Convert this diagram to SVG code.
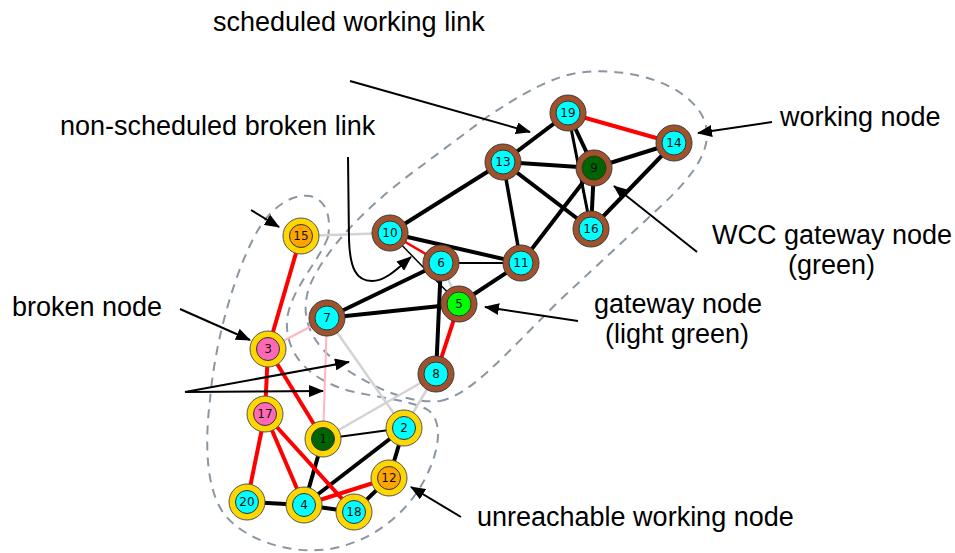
<svg xmlns="http://www.w3.org/2000/svg" width="955" height="553" viewBox="0 0 955 553">
<style>
.lbl{font-family:"Liberation Sans",Arial,sans-serif;font-size:27px;fill:#000}
.num{font-family:"DejaVu Sans",sans-serif;font-size:12px;fill:#111;text-anchor:middle;dominant-baseline:central}
.grp{fill:none;stroke:#8a96a2;stroke-width:2;stroke-dasharray:9 7}
.k{stroke:#000;stroke-width:4;fill:none}
.kt{stroke:#000;stroke-width:2;fill:none}
.r{stroke:#ff0000;stroke-width:4;fill:none}
.rt{stroke:#ff0000;stroke-width:2.5;fill:none}
.g{stroke:#d3d3d3;stroke-width:2.5;fill:none}
.p{stroke:#ffb6c1;stroke-width:2;fill:none}
.arr{stroke:#000;stroke-width:2;fill:none;marker-end:url(#ah)}
.ringB{fill:#a0522d;stroke:#3d3d3d;stroke-width:1}
.ringY{fill:#ffd700;stroke:#555;stroke-width:1}
.in{stroke:#333;stroke-width:1}
</style>
<defs>
<marker id="ah" markerUnits="userSpaceOnUse" markerWidth="15" markerHeight="12" refX="14" refY="6" orient="auto">
<path d="M0,0 L15,6 L0,12 z" fill="#000"/>
</marker>
</defs>
<rect width="955" height="553" fill="#fff"/>
<g id="groups">
<path class="grp" d="M 440,401 C 470,395 500,360 560,300 L 660,207 C 700,170 718,140 700,112 C 680,82 630,68 585,72 C 555,74 520,95 487,117 L 420,167 C 380,196 330,240 310,285 C 295,325 320,355 360,378 C 390,395 415,403 440,401 Z"/>
<path class="grp" d="M 328,237 C 320,260 290,290 287,320 C 285,355 310,380 350,391 C 380,398 410,400 428,410 C 442,420 440,445 430,468 C 415,505 380,540 330,549 C 290,555 245,540 225,515 C 205,490 205,440 210,400 C 215,340 235,270 258,230 C 270,210 290,193 310,196 C 328,200 331,220 328,237 Z"/>
</g>
<g id="connectors">
<line class="g" x1="301" y1="236" x2="390" y2="233"/>
<line class="g" x1="327" y1="318" x2="404" y2="428"/>
<line class="g" x1="436" y1="374" x2="323" y2="439"/>
<line class="g" x1="436" y1="374" x2="404" y2="428"/>
<line class="g" x1="441" y1="263" x2="459" y2="304"/>
<line class="p" x1="268" y1="349" x2="327" y2="318"/>
<line class="p" x1="327" y1="318" x2="323" y2="439"/>
<line class="kt" x1="390" y1="233" x2="459" y2="304" style="stroke-width:1.5"/>
<line class="kt" x1="441" y1="263" x2="521" y2="263"/>
<line class="kt" x1="323" y1="439" x2="404" y2="428"/>
<line class="k" x1="568" y1="113" x2="503" y2="162"/>
<line class="k" x1="568" y1="113" x2="594" y2="168"/>
<line class="k" x1="568" y1="113" x2="591" y2="229" style="stroke-width:3"/>
<line class="k" x1="503" y1="162" x2="594" y2="168"/>
<line class="k" x1="503" y1="162" x2="591" y2="229"/>
<line class="k" x1="503" y1="162" x2="390" y2="233"/>
<line class="k" x1="503" y1="162" x2="521" y2="263" style="stroke-width:3.5"/>
<line class="k" x1="594" y1="168" x2="674" y2="143"/>
<line class="k" x1="594" y1="168" x2="591" y2="229"/>
<line class="k" x1="674" y1="143" x2="591" y2="229"/>
<line class="k" x1="594" y1="168" x2="521" y2="263"/>
<line class="k" x1="390" y1="233" x2="521" y2="263"/>
<line class="k" x1="441" y1="263" x2="327" y2="318"/>
<line class="k" x1="327" y1="318" x2="459" y2="304"/>
<line class="k" x1="441" y1="263" x2="436" y2="374"/>
<line class="k" x1="459" y1="304" x2="521" y2="263"/>
<line class="k" x1="323" y1="439" x2="304" y2="505"/>
<line class="k" x1="404" y1="428" x2="304" y2="505"/>
<line class="k" x1="404" y1="428" x2="389" y2="478"/>
<line class="k" x1="389" y1="478" x2="354" y2="512"/>
<line class="k" x1="247" y1="502" x2="304" y2="505"/>
<line class="k" x1="304" y1="505" x2="354" y2="512"/>
<line class="rt" x1="390" y1="233" x2="441" y2="263"/>
<line class="r" x1="568" y1="113" x2="674" y2="143"/>
<line class="r" x1="459" y1="304" x2="436" y2="374"/>
<line class="r" x1="301" y1="236" x2="268" y2="349"/>
<line class="r" x1="268" y1="349" x2="265" y2="414"/>
<line class="r" x1="268" y1="349" x2="323" y2="439"/>
<line class="r" x1="265" y1="414" x2="247" y2="502"/>
<line class="r" x1="265" y1="414" x2="304" y2="505"/>
<line class="r" x1="265" y1="414" x2="354" y2="512"/>
<line class="r" x1="389" y1="478" x2="304" y2="505"/>
</g>
<g id="nodes">
<g id="n19"><circle class="ringB" cx="568" cy="113" r="18"/><circle class="in" cx="568" cy="113" r="12" fill="#00ffff"/><text class="num" x="568" y="113">19</text></g>
<g id="n14"><circle class="ringB" cx="674" cy="143" r="18"/><circle class="in" cx="674" cy="143" r="12" fill="#00ffff"/><text class="num" x="674" y="143">14</text></g>
<g id="n13"><circle class="ringB" cx="503" cy="162" r="18"/><circle class="in" cx="503" cy="162" r="12" fill="#00ffff"/><text class="num" x="503" y="162">13</text></g>
<g id="n9"><circle class="ringB" cx="594" cy="168" r="18"/><circle class="in" cx="594" cy="168" r="12" fill="#006400"/><text class="num" x="594" y="168">9</text></g>
<g id="n16"><circle class="ringB" cx="591" cy="229" r="18"/><circle class="in" cx="591" cy="229" r="12" fill="#00ffff"/><text class="num" x="591" y="229">16</text></g>
<g id="n10"><circle class="ringB" cx="390" cy="233" r="18"/><circle class="in" cx="390" cy="233" r="12" fill="#00ffff"/><text class="num" x="390" y="233">10</text></g>
<g id="n6"><circle class="ringB" cx="441" cy="263" r="18"/><circle class="in" cx="441" cy="263" r="12" fill="#00ffff"/><text class="num" x="441" y="263">6</text></g>
<g id="n11"><circle class="ringB" cx="521" cy="263" r="18"/><circle class="in" cx="521" cy="263" r="12" fill="#00ffff"/><text class="num" x="521" y="263">11</text></g>
<g id="n5"><circle class="ringB" cx="459" cy="304" r="18"/><circle class="in" cx="459" cy="304" r="12" fill="#00ff00"/><text class="num" x="459" y="304">5</text></g>
<g id="n7"><circle class="ringB" cx="327" cy="318" r="18"/><circle class="in" cx="327" cy="318" r="12" fill="#00ffff"/><text class="num" x="327" y="318">7</text></g>
<g id="n8"><circle class="ringB" cx="436" cy="374" r="18"/><circle class="in" cx="436" cy="374" r="12" fill="#00ffff"/><text class="num" x="436" y="374">8</text></g>
<g id="n15"><circle class="ringY" cx="301" cy="236" r="18"/><circle class="in" cx="301" cy="236" r="11.5" fill="#ffa500"/><text class="num" x="301" y="236">15</text></g>
<g id="n3"><circle class="ringY" cx="268" cy="349" r="18"/><circle class="in" cx="268" cy="349" r="11.5" fill="#ff69b4"/><text class="num" x="268" y="349">3</text></g>
<g id="n17"><circle class="ringY" cx="265" cy="414" r="18"/><circle class="in" cx="265" cy="414" r="11.5" fill="#ff69b4"/><text class="num" x="265" y="414">17</text></g>
<g id="n1"><circle class="ringY" cx="323" cy="439" r="18"/><circle class="in" cx="323" cy="439" r="11.5" fill="#006400"/><text class="num" x="323" y="439">1</text></g>
<g id="n2"><circle class="ringY" cx="404" cy="428" r="18"/><circle class="in" cx="404" cy="428" r="11.5" fill="#00ffff"/><text class="num" x="404" y="428">2</text></g>
<g id="n12"><circle class="ringY" cx="389" cy="478" r="18"/><circle class="in" cx="389" cy="478" r="11.5" fill="#ffa500"/><text class="num" x="389" y="478">12</text></g>
<g id="n20"><circle class="ringY" cx="247" cy="502" r="18"/><circle class="in" cx="247" cy="502" r="11.5" fill="#00ffff"/><text class="num" x="247" y="502">20</text></g>
<g id="n4"><circle class="ringY" cx="304" cy="505" r="18"/><circle class="in" cx="304" cy="505" r="11.5" fill="#00ffff"/><text class="num" x="304" y="505">4</text></g>
<g id="n18"><circle class="ringY" cx="354" cy="512" r="18"/><circle class="in" cx="354" cy="512" r="11.5" fill="#00ffff"/><text class="num" x="354" y="512">18</text></g>
</g>
<g id="annotations">
<line class="arr" x1="350" y1="81" x2="530" y2="132"/>
<path class="arr" d="M348,157 L349,240 C350,268 356,281 372,281 C386,281 398,268 411,257"/>
<line class="arr" x1="772" y1="122" x2="698" y2="133"/>
<line class="arr" x1="697" y1="252" x2="614" y2="186"/>
<line class="arr" x1="578" y1="321" x2="485" y2="307"/>
<line class="arr" x1="180" y1="309" x2="250" y2="340"/>
<line class="arr" x1="185" y1="392" x2="349" y2="362"/>
<line class="arr" x1="185" y1="392" x2="323" y2="391"/>
<line class="arr" x1="251" y1="210" x2="279" y2="227"/>
<line class="arr" x1="461" y1="517" x2="411" y2="487"/>
<text class="lbl" x="213" y="31">scheduled working link</text>
<text class="lbl" x="60" y="135">non-scheduled broken link</text>
<text class="lbl" x="780" y="126">working node</text>
<text class="lbl" x="712" y="244">WCC gateway node</text>
<text class="lbl" x="788" y="274">(green)</text>
<text class="lbl" x="594" y="313">gateway node</text>
<text class="lbl" x="605" y="343">(light green)</text>
<text class="lbl" x="12" y="316">broken node</text>
<text class="lbl" x="477" y="526">unreachable working node</text>
</g>
</svg>
